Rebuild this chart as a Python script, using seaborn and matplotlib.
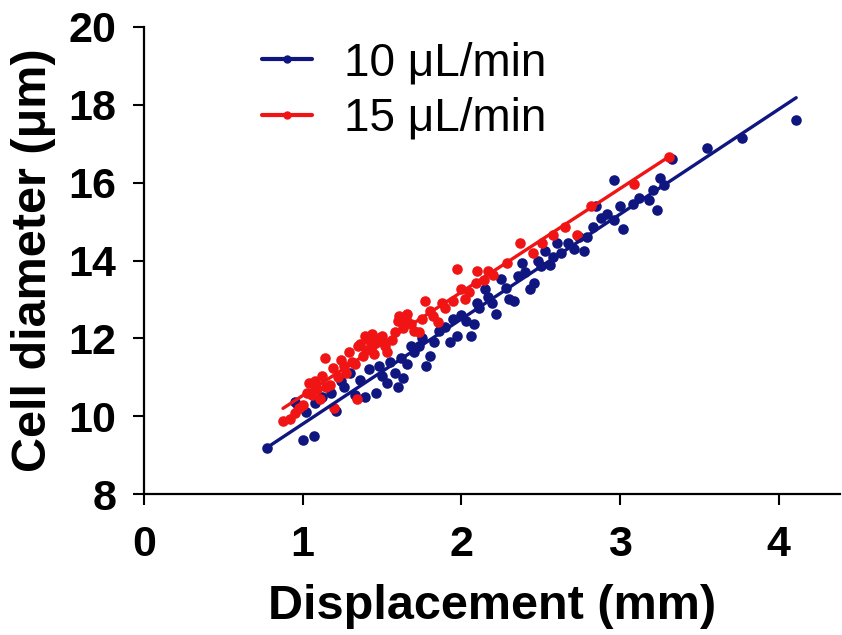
import matplotlib
matplotlib.use("Agg")
import matplotlib.pyplot as plt
from matplotlib.lines import Line2D
import seaborn as sns
import pandas as pd

# ---- data ----
blue_x = [0.775, 0.95, 0.97, 1.0, 1.07, 1.02, 1.08, 1.12, 1.18, 1.21, 1.24, 1.26, 1.30, 1.33,
          1.36, 1.39, 1.42, 1.46, 1.48, 1.50, 1.53, 1.55, 1.58, 1.60, 1.62, 1.63, 1.66, 1.68,
          1.70, 1.73, 1.75, 1.78, 1.80, 1.83, 1.86, 1.90, 1.93, 1.95, 1.97, 2.0, 2.03, 2.06,
          2.08, 2.10, 2.11, 2.15, 2.17, 2.19, 2.22, 2.25, 2.28, 2.30, 2.33, 2.36, 2.38, 2.40,
          2.43, 2.46, 2.48, 2.50, 2.53, 2.56, 2.58, 2.60, 2.63, 2.67, 2.71, 2.74, 2.77, 2.79,
          2.83, 2.85, 2.88, 2.92, 2.96, 2.96, 3.0, 3.02, 3.08, 3.12, 3.18, 3.21, 3.23, 3.25,
          3.28, 3.33, 3.55, 3.77, 4.11]
blue_y = [9.17, 10.37, 10.25, 9.39, 9.48, 10.1, 10.35, 10.5, 10.6, 10.13, 10.9, 10.76, 11.1, 10.55,
          10.92, 10.5, 11.2, 10.6, 11.3, 11.02, 10.86, 11.4, 11.1, 10.76, 11.5, 10.97, 11.33, 11.8,
          11.65, 11.8, 12.0, 11.3, 11.55, 11.9, 12.2, 12.3, 11.9, 12.5, 12.06, 12.6, 12.45, 12.06,
          12.37, 12.9, 12.79, 13.26, 13.05, 12.9, 12.63, 13.52, 13.3, 13.0, 12.95, 13.6, 13.93, 13.7,
          13.26, 13.41, 14.0, 13.85, 14.25, 13.89, 14.1, 14.45, 14.2, 14.45, 14.3, 14.6, 14.25, 14.61,
          14.87, 15.39, 15.1, 15.2, 16.07, 15.03, 15.4, 14.82, 15.44, 15.6, 15.55, 15.8, 15.29, 16.12,
          15.95, 16.6, 16.9, 17.16, 17.6]

red_x = [0.876, 0.92, 0.95, 0.98, 1.0, 1.03, 1.04, 1.06, 1.08, 1.09, 1.11, 1.12, 1.14, 1.15,
         1.17, 1.19, 1.20, 1.22, 1.24, 1.26, 1.27, 1.29, 1.31, 1.33, 1.34, 1.35, 1.36, 1.38,
         1.39, 1.40, 1.42, 1.43, 1.44, 1.45, 1.46, 1.48, 1.50, 1.52, 1.53, 1.56, 1.58, 1.60,
         1.61, 1.63, 1.65, 1.66, 1.68, 1.70, 1.73, 1.75, 1.77, 1.80, 1.82, 1.85, 1.88, 1.90,
         1.95, 1.97, 2.0, 2.02, 2.05, 2.09, 2.10, 2.14, 2.17, 2.20, 2.29, 2.37, 2.45, 2.51,
         2.58, 2.65, 2.73, 2.82, 3.09, 3.31]
red_y = [9.88, 9.93, 10.08, 10.2, 10.29, 10.6, 10.86, 10.55, 10.9, 10.7, 10.45, 11.02, 11.5, 10.75,
         10.81, 11.23, 10.2, 11.0, 11.44, 11.3, 11.12, 11.65, 11.4, 11.34, 10.45, 11.8, 11.85, 11.55,
         12.06, 11.7, 11.95, 11.75, 12.11, 11.6, 11.9, 12.0, 12.06, 11.8, 11.65, 11.96, 12.16, 12.45,
         12.58, 12.27, 12.5, 12.63, 12.37, 12.2, 12.16, 12.5, 12.95, 12.7, 12.58, 12.42, 12.9, 12.79,
         12.95, 13.78, 13.26, 13.0, 13.2, 13.41, 13.73, 13.5, 13.73, 13.62, 13.93, 14.45, 14.2, 14.45,
         14.66, 14.87, 14.66, 15.39, 15.96, 16.65]

series_labels = ["10 \u03bcL/min", "15 \u03bcL/min"]
x_ticks = [0, 1, 2, 3, 4]
y_ticks = [8, 10, 12, 14, 16, 18, 20]

BLUE = "#10167f"
RED = "#f01414"

sns.set_style("ticks")
plt.rcParams["font.family"] = ["Liberation Sans", "DejaVu Sans"]
plt.rcParams["text.color"] = "black"
plt.rcParams["axes.labelcolor"] = "black"
plt.rcParams["xtick.color"] = "black"
plt.rcParams["ytick.color"] = "black"

fig = plt.figure(figsize=(8.42, 6.35), dpi=100)
ax = fig.add_axes([0.171, 0.222, 0.8266, 0.7355])

df_b = pd.DataFrame({"x": blue_x, "y": blue_y})
df_r = pd.DataFrame({"x": red_x, "y": red_y})

for df, col in [(df_b, BLUE), (df_r, RED)]:
    sns.regplot(data=df, x="x", y="y", ax=ax, ci=None, color=col,
                scatter_kws=dict(s=58, linewidths=0, alpha=1, zorder=3),
                line_kws=dict(lw=2.4, zorder=4))

ax.set_xlim(0, 4.386)
ax.set_ylim(8, 20)
ax.set_xticks(x_ticks)
ax.set_yticks(y_ticks)
ax.set_xticklabels([str(v) for v in x_ticks], fontsize=31, fontweight="bold", color="black")
ax.set_yticklabels([str(v) for v in y_ticks], fontsize=31, fontweight="bold", color="black")
ax.tick_params(axis="both", direction="out", length=8, width=1.5, colors="black")
ax.tick_params(axis="x", pad=14)
ax.tick_params(axis="y", pad=12)
for s in ["left", "bottom"]:
    ax.spines[s].set_linewidth(1.6)
    ax.spines[s].set_color("black")
sns.despine(ax=ax)

ax.set_xlabel("Displacement (mm)", fontsize=35, fontweight="bold", labelpad=14, color="black")
ax.set_ylabel("Cell diameter (\u03bcm)", fontsize=35, fontweight="bold", labelpad=9, color="black")

handles = [Line2D([], [], color=BLUE, lw=3, marker="o", markersize=5),
           Line2D([], [], color=RED, lw=3, marker="o", markersize=5)]
leg = fig.legend(handles, series_labels, loc="upper left", bbox_to_anchor=(0.311, 0.935),
                 frameon=False, fontsize=33, handlelength=1.1, handletextpad=0.7,
                 labelspacing=0.25, borderpad=0, borderaxespad=0)
for t in leg.get_texts():
    t.set_color("black")

fig.savefig("out.png", dpi=100)
